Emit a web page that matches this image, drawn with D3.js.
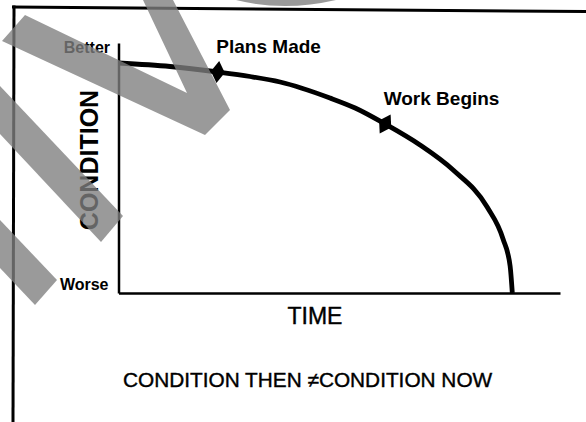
<!DOCTYPE html>
<html>
<head>
<meta charset="utf-8">
<script src="https://cdn.jsdelivr.net/npm/d3@7"></script>
<style>
  html, body { margin: 0; padding: 0; background: #fff; }
  svg { display: block; }
  text { font-family: "Liberation Sans", Arial, Helvetica, sans-serif; fill: #000; }
</style>
</head>
<body>
<svg id="chart" width="586" height="422"></svg>
<script>
// Condition of a building over time: it slowly declines, then falls off sharply.
const timeVals      = [0, 11.7, 22.5, 29.8, 36.6, 47.9, 53.6, 60.4, 68.3, 75.8, 83.5, 87.1, 88.7, 89.2];
const conditionVals = [92, 90.6, 88.4, 86.6, 84.4, 78, 74, 67.6, 59.2, 49.2, 34.4, 21.6, 10.8, 0];

// Milestones marked along the curve
const milestoneNames     = ["Plans Made", "Work Begins"];
const milestoneTime      = [22.5, 60.4];
const milestoneCondition = [88.4, 67.6];

// Axis end labels
const conditionLabels = ["Better", "Worse"];
const axisTitleX = "TIME";
const axisTitleY = "CONDITION";
const caption = "CONDITION THEN \u2260CONDITION NOW";

const W = 586, H = 422;
const svg = d3.select("#chart");

const x = d3.scaleLinear().domain([0, 100]).range([118.5, 560]);
const y = d3.scaleLinear().domain([0, 100]).range([293, 43]);

// Outer frame (top and left edges only)
const frame = svg.append("g").attr("stroke", "#000").attr("stroke-width", 3).attr("fill", "none");
frame.append("line").attr("x1", 12).attr("y1", 7).attr("x2", W).attr("y2", 11.5);
frame.append("line").attr("x1", 14).attr("y1", 5.5).attr("x2", 13).attr("y2", H);

// Axes: plain lines, no ticks
const xAxis = svg.append("g")
  .attr("transform", `translate(0,${y(0)})`)
  .call(d3.axisBottom(x).tickValues([]).tickSizeOuter(0));
const yAxis = svg.append("g")
  .attr("transform", `translate(${x(0)},0)`)
  .call(d3.axisLeft(y).tickValues([]).tickSizeOuter(0));
[xAxis, yAxis].forEach(g => g.select(".domain").attr("stroke", "#000").attr("stroke-width", 2.5));

// Condition curve
const pts = timeVals.map((t, i) => [x(t), y(conditionVals[i])]);
const line = d3.line().curve(d3.curveMonotoneX);
svg.append("path")
  .attr("d", line(pts))
  .attr("fill", "none")
  .attr("stroke", "#000")
  .attr("stroke-width", 4.8);

// Milestone diamonds, turned to follow the curve
milestoneNames.forEach((name, i) => {
  const mx = x(milestoneTime[i]), my = y(milestoneCondition[i]);
  const k = timeVals.indexOf(milestoneTime[i]);
  const a = pts[Math.max(k - 1, 0)], b = pts[Math.min(k + 1, pts.length - 1)];
  const ang = Math.atan2(b[1] - a[1], b[0] - a[0]) * 180 / Math.PI;
  svg.append("path")
    .attr("d", "M0,-11L7,0L0,11L-7,0Z")
    .attr("transform", `translate(${mx},${my}) rotate(${ang})`)
    .attr("fill", "#000");
  svg.append("text")
    .attr("x", mx - 1.5)
    .attr("y", my - 19.5)
    .attr("font-size", 19)
    .attr("font-weight", "bold")
    .text(name);
});

// End labels on the condition axis
svg.append("text")
  .attr("x", x(0) - 8.5).attr("y", y(100) + 10)
  .attr("text-anchor", "end").attr("font-size", 16).attr("font-weight", "bold")
  .text(conditionLabels[0]);
svg.append("text")
  .attr("x", x(0) - 10).attr("y", y(0) - 3)
  .attr("text-anchor", "end").attr("font-size", 16).attr("font-weight", "bold")
  .text(conditionLabels[1]);

// Axis titles
svg.append("text")
  .attr("transform", `translate(${x(0) - 21},160) rotate(-90)`)
  .attr("text-anchor", "middle").attr("font-size", 25).attr("font-weight", "bold")
  .text(axisTitleY);
svg.append("text")
  .attr("x", 315).attr("y", 324)
  .attr("text-anchor", "middle").attr("font-size", 23)
  .attr("stroke", "#000").attr("stroke-width", 0.4)
  .text(axisTitleX);

// Caption
svg.append("text")
  .attr("x", 123).attr("y", 387)
  .attr("font-size", 20.8)
  .attr("stroke", "#000").attr("stroke-width", 0.4)
  .text(caption);

// Grey diagonal overlay bands across the upper left
const overlayShapes = [
  [[25,15],[187,93],[143,0],[173,0],[230,110],[205,135],[2,41]],
  [[0,86],[123,216],[101,242],[0,134]],
  [[0,220],[57,280],[35,305],[0,268]]
];
const overlay = svg.append("g").attr("fill", "#7f7f7f").attr("fill-opacity", 0.79);
overlayShapes.forEach(s => overlay.append("path").attr("d", "M" + s.join("L") + "Z"));
overlay.append("path").attr("d", "M236,0Q284,12 336,0Z");
</script>
</body>
</html>
